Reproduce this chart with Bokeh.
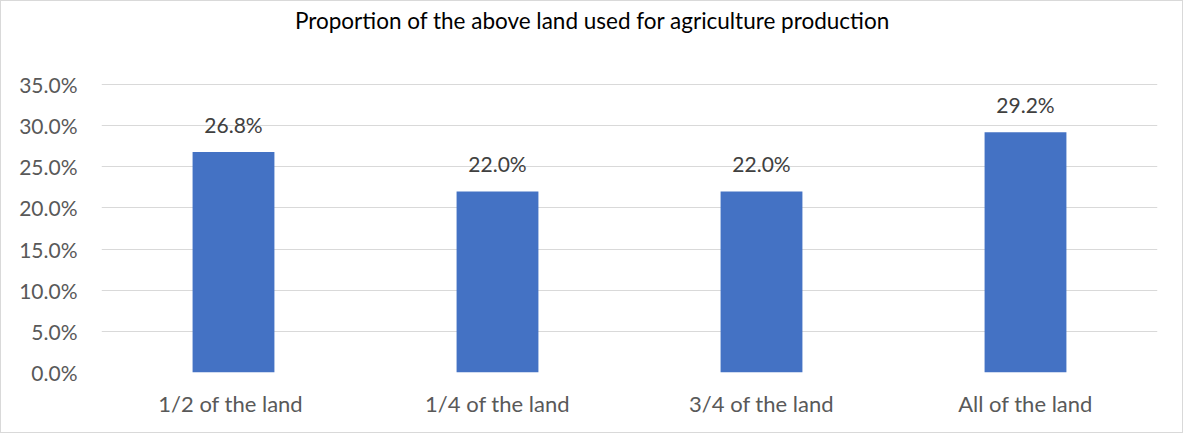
from bokeh.plotting import figure
from bokeh.models import ColumnDataSource, Range1d, NumeralTickFormatter, FixedTicker, Label
from bokeh.core.properties import value
from bokeh.embed import file_html
from bokeh.resources import INLINE

categories = ["1/2  of the land", "1/4 of the land", "3/4 of the land", "All of the land"]
shares = [0.268, 0.220, 0.220, 0.292]
labels = ["26.8%", "22.0%", "22.0%", "29.2%"]
y_ticks = [0.0, 0.05, 0.10, 0.15, 0.20, 0.25, 0.30, 0.35]
title_text = "Proportion of the above land used for agriculture production"

FONT = "Lato"
H, BOTTOM = 433, 62
PX_PER_UNIT = 288 / 0.35           # 35% spans 288 px in the reference
y_top = (H - BOTTOM) / PX_PER_UNIT  # range end so the frame reaches the top edge

src = ColumnDataSource(dict(cat=categories, val=shares, lab=labels))

p = figure(x_range=categories, y_range=Range1d(0, y_top), width=1183, height=H,
           output_backend="svg", toolbar_location=None,
           min_border_left=100, min_border_right=27, min_border_top=0, min_border_bottom=BOTTOM)

p.vbar(x="cat", top="val", width=0.31, source=src, fill_color="#4472C4", line_color=None)
p.text(x="cat", y="val", text="lab", source=src, text_align="center", text_baseline="bottom",
       y_offset=-15, text_font=value(FONT), text_font_size="21px", text_color="#404040")

p.add_layout(Label(x=1.86, y=(H - BOTTOM - 19) / PX_PER_UNIT, text=title_text,
                   text_align="center", text_baseline="middle",
                   text_font=FONT, text_font_size="22.5px", text_color="#000000"))

p.yaxis.ticker = FixedTicker(ticks=y_ticks)
p.yaxis.formatter = NumeralTickFormatter(format="0.0%")
for ax in (p.xaxis, p.yaxis):
    ax.axis_line_color = None
    ax.major_tick_line_color = None
    ax.minor_tick_line_color = None
    ax.major_label_text_font = FONT
    ax.major_label_text_font_size = "21px"
    ax.major_label_text_color = "#595959"
p.xaxis.major_label_text_font_size = "22px"
p.yaxis.major_label_standoff = 18
p.xaxis.major_label_standoff = 11
p.xgrid.grid_line_color = None
p.ygrid.grid_line_color = "#d9d9d9"
p.ygrid.grid_line_width = 1
p.outline_line_color = None
p.styles = {"border": "1px solid #d9d9d9", "box-sizing": "border-box"}

open("out.html", "w").write(file_html(p, INLINE))
